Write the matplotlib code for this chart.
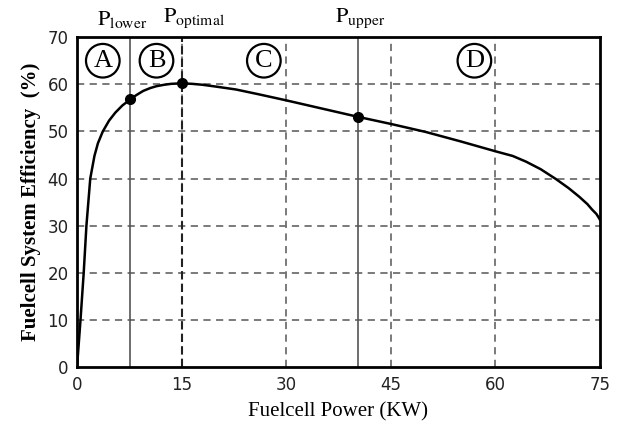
import matplotlib
matplotlib.use("Agg")
import matplotlib.pyplot as plt

plt.rcParams['mathtext.fontset'] = 'stix'

# Data
power_kw = [0, 0.5, 0.96, 1.35, 1.9, 2.5, 3.0, 3.7, 4.6, 5.5, 6.5, 7.55, 8.5, 9.5, 10.5,
            11.4, 12.5, 13.5, 15, 16.5, 18, 20, 22.8, 26, 30, 35, 40.3, 45, 50, 55,
            60, 62.5, 64.4, 66.5, 68.7, 70.5, 72, 73.2, 73.9, 74.5, 74.8, 75]
efficiency = [0, 10, 20, 30, 40, 44.8, 47.5, 50, 52.3, 54.0, 55.5, 56.7, 57.7, 58.6, 59.2,
              59.6, 59.9, 60.1, 60.2, 60.1, 59.9, 59.5, 58.9, 57.9, 56.6, 54.9, 53.1, 51.6, 49.9, 47.9,
              45.8, 44.8, 43.6, 42.0, 39.9, 38.0, 36.2, 34.6, 33.4, 32.5, 31.8, 31.3]

key_labels = ['lower', 'optimal', 'upper']
key_power = [7.55, 15.0, 40.3]
key_eff = [56.8, 60.3, 53.1]
key_label_x = [2.8, 12.3, 37.0]

region_labels = ['A', 'B', 'C', 'D']
region_x = [3.7, 11.4, 26.8, 57.0]
region_y = 65.0

x_ticks = [0, 15, 30, 45, 60, 75]
y_ticks = [0, 10, 20, 30, 40, 50, 60, 70]

fig = plt.figure(figsize=(6.21, 4.32), dpi=100)
ax = fig.add_axes([0.124, 0.150, 0.842, 0.764])
ax.set_xlim(0, 75)
ax.set_ylim(0, 70)

grid_kw = dict(color='#707070', linestyle=(0, (4, 3)), linewidth=1.3, zorder=1)
for yv in y_ticks[1:-1]:
    ax.axhline(yv, **grid_kw)
for xv in x_ticks[1:-1]:
    ax.axvline(xv, **grid_kw)

# Plower / Pupper solid lines, Poptimal dashed
ax.axvline(key_power[0], color='#555555', linewidth=1.2, zorder=2)
ax.axvline(key_power[2], color='#555555', linewidth=1.2, zorder=2)
ax.axvline(key_power[1], color='#222222', linestyle=(0, (4, 2)), linewidth=1.5, zorder=2)

ax.plot(power_kw, efficiency, color='black', linewidth=1.8, zorder=3)
ax.plot(key_power, key_eff, 'o', color='black', markersize=7, zorder=4)

for lab, xv in zip(region_labels, region_x):
    ax.text(xv, region_y, lab, ha='center', va='center', fontsize=19,
            family='Liberation Serif', zorder=5,
            bbox=dict(boxstyle='circle,pad=0.22', fc='white', ec='black', lw=1.6))

for lab, xv in zip(key_labels, key_label_x):
    ax.text(xv, 71.5, r'$\mathrm{P}_{\mathrm{' + lab + '}}$', ha='left', va='bottom',
            fontsize=16, clip_on=False)

ax.set_xticks(x_ticks)
ax.set_yticks(y_ticks)
ax.tick_params(length=0, labelsize=12, pad=6, colors='#222222')
for s in ax.spines.values():
    s.set_linewidth(2)
    s.set_color('black')

ax.set_xlabel('Fuelcell Power (KW)', family='Liberation Serif', fontsize=15, labelpad=6)
ax.set_ylabel('Fuelcell System Efficiency  (%)', family='Liberation Serif', fontsize=15,
              fontweight='bold', labelpad=5)

fig.savefig('out.png', dpi=100)
